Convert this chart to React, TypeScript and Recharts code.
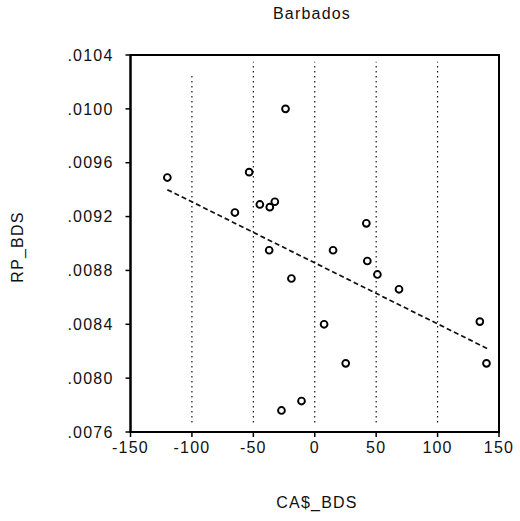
import React from 'react';
import { ScatterChart, Scatter, XAxis, YAxis, ReferenceLine, ReferenceArea } from 'recharts';

const caBds = [-120, -53.4, -65, -44.7, -36.6, -32.5, -37.1, -23.8, 42, 14.9, 42.8, 51, -19, 68.6, 7.6, 134.4, 25.2, 139.8, -10.8, -27.1];
const rpBds = [0.00949, 0.00953, 0.00923, 0.00929, 0.00927, 0.00931, 0.00895, 0.01, 0.00915, 0.00895, 0.00887, 0.00877, 0.00874, 0.00866, 0.0084, 0.00842, 0.00811, 0.00811, 0.00783, 0.00776];
const fitX = [-120, 140.4];
const fitY = [0.0094, 0.00822];
const xTicks = [-150, -100, -50, 0, 50, 100, 150];
const yTicks = [0.0076, 0.008, 0.0084, 0.0088, 0.0092, 0.0096, 0.01, 0.0104];
const gridX = [-100, -50, 0, 50, 100];
const gridTop = [0.01027, 0.01035, 0.01035, 0.01035, 0.01035];
const gridBottom = [0.00767, 0.00767, 0.00767, 0.00767, 0.00767];

const points = caBds.map((x, i) => ({ x, y: rpBds[i] }));
const fitLine = fitX.map((x, i) => ({ x, y: fitY[i] }));

const FONT = '"Liberation Sans", Arial, Helvetica, sans-serif';
const tickStyle = { fontFamily: FONT, fontSize: 16, fill: '#111', letterSpacing: 1.2 };

const Circle = (props: any) => {
  const { cx, cy } = props;
  if (cx == null || cy == null) return null;
  return <circle cx={cx} cy={cy} r={3.4} fill="#fff" stroke="#000" strokeWidth={1.9} />;
};

const fmtY = (v: number) => v.toFixed(4).replace(/^0/, '');

export default function App() {
  return (
    <div style={{ position: 'absolute', left: 0, top: 0, width: 520, height: 521, background: '#fff' }}>
      <ScatterChart width={520} height={521} margin={{ top: 55, right: 21, bottom: 59, left: 70.5 }}>
        <XAxis
          type="number"
          dataKey="x"
          domain={[-150, 150]}
          ticks={xTicks}
          allowDataOverflow
          height={30}
          tick={tickStyle}
          tickSize={5}
          tickMargin={5}
          axisLine={{ stroke: '#000', strokeWidth: 2 }}
          tickLine={{ stroke: '#000', strokeWidth: 1.5 }}
        />
        <YAxis
          type="number"
          dataKey="y"
          domain={[0.0076, 0.0104]}
          ticks={yTicks}
          allowDataOverflow
          width={60}
          tick={tickStyle}
          tickFormatter={fmtY}
          tickSize={5}
          tickMargin={12}
          axisLine={{ stroke: '#000', strokeWidth: 2 }}
          tickLine={{ stroke: '#000', strokeWidth: 1.5 }}
        />
        <ReferenceArea x1={-150} x2={150} y1={0.0076} y2={0.0104} fill="none" stroke="#000" strokeWidth={2} />
        {gridX.map((gx, i) => (
          <ReferenceLine
            key={gx}
            segment={[{ x: gx, y: gridBottom[i] }, { x: gx, y: gridTop[i] }]}
            stroke="#000"
            strokeWidth={1.1}
            strokeDasharray="1.5 3.5"
          />
        ))}
        <Scatter
          data={fitLine}
          line={{ stroke: '#111', strokeWidth: 1.7, strokeDasharray: '5 3' }}
          shape={() => null}
          isAnimationActive={false}
        />
        <Scatter data={points} shape={Circle} isAnimationActive={false} />
      </ScatterChart>
      <div style={{ position: 'absolute', left: 262, top: 5, width: 100, textAlign: 'center', fontFamily: FONT, fontSize: 16, letterSpacing: 1.2, color: '#111' }}>
        Barbados
      </div>
      <div style={{ position: 'absolute', left: 265, top: 494, width: 104, textAlign: 'center', fontFamily: FONT, fontSize: 16, letterSpacing: 1.2, color: '#111' }}>
        CA$_BDS
      </div>
      <div style={{ position: 'absolute', left: 18, top: 247, width: 0, height: 0 }}>
        <div style={{ position: 'absolute', left: -50, top: -10, width: 100, textAlign: 'center', transform: 'rotate(-90deg)', fontFamily: FONT, fontSize: 16, letterSpacing: 1.2, color: '#111', lineHeight: '20px' }}>
          RP_BDS
        </div>
      </div>
    </div>
  );
}
